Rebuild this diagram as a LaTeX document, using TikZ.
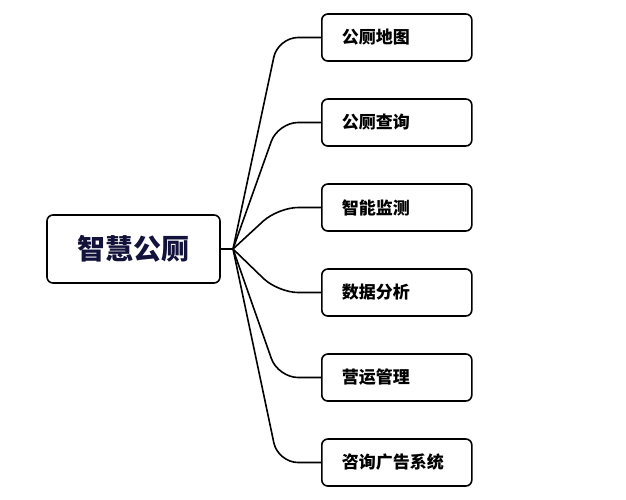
\documentclass[tikz,border=0pt]{standalone}
\usepackage{fontspec}
\newfontfamily\cjk{Noto Sans CJK SC}
\usepackage{tikz}
\definecolor{rootink}{HTML}{12123A}

\begin{document}
\begin{tikzpicture}[x=1pt,y=-1pt,
	every node/.style = {shape=rectangle, rounded corners=6pt, draw, line width=1.6pt},
	root/.style = {minimum width=173pt, minimum height=68pt, text=rootink,
	  font=\cjk\bfseries\fontsize{28}{31}\selectfont},
	leaf/.style = {anchor=west, minimum height=47pt, text width=110pt, inner xsep=20pt,
	  align=left, font=\cjk\bfseries\fontsize{17}{20}\selectfont},
	link/.style = {line width=1.6pt, rounded corners=20pt}
	]
  \useasboundingbox (0,0) rectangle (626,499);
  \node [root] (root) at (133.5,249) {智慧公厕};
  \node [leaf] (c1) at (321,37.5) {公厕地图};
  \node [leaf] (c2) at (321,122.5) {公厕查询};
  \node [leaf] (c3) at (321,207.5) {智能监测};
  \node [leaf] (c4) at (321,292.5) {数据分析};
  \node [leaf] (c5) at (321,377.5) {营运管理};
  \node [leaf] (c6) at (321,462.5) {咨询广告系统};
  \coordinate (hub) at (233,249);
  \draw [line width=1.6pt] (root.east) -- (hub);
  \draw [link] (hub) -- (278,37.5) -- (c1.west);
  \draw [link] (hub) -- (278,122.5) -- (c2.west);
  \draw [link] (hub) -- (278,207.5) -- (c3.west);
  \draw [link] (hub) -- (278,292.5) -- (c4.west);
  \draw [link] (hub) -- (278,377.5) -- (c5.west);
  \draw [link] (hub) -- (278,462.5) -- (c6.west);
\end{tikzpicture}
\end{document}
